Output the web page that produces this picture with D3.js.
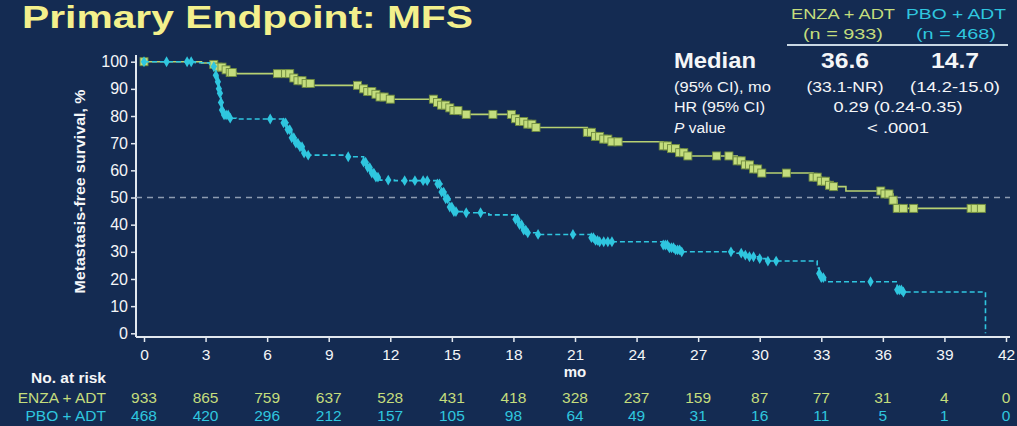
<!DOCTYPE html>
<html>
<head>
<meta charset="utf-8">
<script src="https://cdn.jsdelivr.net/npm/d3@7"></script>
<style>
  html, body { margin: 0; padding: 0; background: #142b52; }
  svg { display: block; font-family: "Liberation Sans", Arial, sans-serif; }
</style>
</head>
<body>
<svg id="chart" width="1017" height="426"></svg>
<script>
// ---- data -------------------------------------------------------------
const monthTicks = d3.range(0, 43, 3);
const pctTicks = d3.range(0, 101, 10);

const enzaAtRisk = [933, 865, 759, 637, 528, 431, 418, 328, 237, 159, 87, 77, 31, 4, 0];
const pboAtRisk  = [468, 420, 296, 212, 157, 105, 98, 64, 49, 31, 16, 11, 5, 1, 0];

// Kaplan-Meier steps: [month, survival % after the step]
const enzaSteps = [
  [0, 100], [2.8, 99.5], [3.3, 99], [3.6, 98], [3.9, 97], [4.2, 96], [4.5, 95.6],
  [7.2, 94], [7.5, 93], [7.8, 92], [8.2, 91.3],
  [10.6, 90], [10.9, 89], [11.2, 88], [11.5, 87], [11.8, 86.2],
  [14.2, 85], [14.5, 84], [14.8, 83], [15.1, 82], [15.4, 80.6],
  [18.0, 79], [18.3, 78], [18.7, 77], [19.1, 75.8],
  [21.6, 74], [22.0, 72.5], [22.4, 71.5], [22.8, 70.5],
  [25.3, 69], [25.7, 68], [26.1, 66.5], [26.5, 65.3],
  [28.9, 63.5], [29.3, 62], [29.7, 60.5], [30.0, 59],
  [32.6, 57.5], [33.0, 56], [33.4, 54.5], [33.6, 54], [34.2, 52.4],
  [36.0, 51.3], [36.5, 49], [36.7, 46], [40.9, 46]
];
const pboSteps = [
  [0, 100], [2.5, 99.6], [3.2, 99], [3.4, 98.2], [3.5, 95], [3.6, 92.6], [3.65, 90],
  [3.7, 88.4], [3.75, 85], [3.8, 82.2], [3.9, 80.4], [4.2, 79.2], [4.5, 78.9],
  [6.8, 77.5], [7.0, 75], [7.2, 72], [7.4, 70], [7.6, 68.7], [7.8, 66.4], [8.0, 65.6],
  [9.9, 65.0], [10.7, 63], [10.9, 61], [11.1, 59], [11.3, 57.5], [11.5, 56.4], [12.2, 56.2],
  [14.3, 55], [14.5, 52], [14.7, 49.5], [14.9, 46.5], [15.1, 44.8], [15.7, 44.4], [16.8, 43.6],
  [18.1, 42], [18.3, 40], [18.5, 38], [18.7, 37], [19.2, 36.4],
  [21.8, 35.2], [22.0, 34.2], [22.2, 33.7],
  [25.3, 32.5], [25.6, 31.5], [25.9, 30.7], [26.2, 30.0],
  [28.9, 29.5], [29.2, 28.8], [29.5, 28.2], [30.0, 27.5], [30.3, 26.6],
  [32.8, 24], [32.9, 22], [33.0, 20.5], [33.2, 19.0],
  [36.7, 16], [37.0, 15.2], [41.0, 0]
];

// censoring times (months)
const enzaCensor = [
  0, 3.4, 3.6, 3.8, 4.0, 4.2, 4.3, 6.5, 6.9,
  7.1, 7.3, 7.5, 7.7, 7.9, 8.1, 10.4,
  10.7, 10.9, 11.1, 11.3, 11.5, 11.7, 12.0,
  14.1, 14.3, 14.5, 14.7, 14.9, 15.1, 15.3, 15.7, 17.0,
  17.9, 18.1, 18.3, 18.5, 18.7, 18.9, 19.1,
  21.6, 21.8, 22.0, 22.2, 22.4, 22.6, 22.8, 23.1,
  25.3, 25.5, 25.7, 25.9, 26.1, 26.3, 26.5,
  27.9, 28.5, 28.9, 29.1, 29.3, 29.5, 29.7, 29.9, 30.1, 31.3,
  32.6, 32.8, 33.0, 33.2, 33.4, 33.6,
  35.9, 36.1, 36.3, 36.5, 36.7, 37.0, 37.5, 40.3, 40.5, 40.8
];
const pboCensor = [
  0, 1.1, 2.1, 2.3, 3.4, 3.5, 3.6, 3.65, 3.7, 3.75, 3.8, 3.9, 4.0, 4.1, 4.2,
  6.15, 6.8, 6.9, 7.0, 7.1, 7.2, 7.3, 7.4, 7.5, 7.6, 7.7, 7.8, 8.0, 9.95,
  10.7, 10.8, 10.9, 11.0, 11.1, 11.2, 11.3, 11.4, 11.9, 12.7, 13.2, 13.6, 13.8,
  14.3, 14.4, 14.5, 14.6, 14.7, 14.8, 14.9, 15.0, 15.1, 15.2, 15.7, 16.4,
  18.1, 18.2, 18.3, 18.4, 18.5, 18.6, 18.7, 19.2, 20.9,
  21.8, 21.9, 22.0, 22.1, 22.2, 22.4, 22.6, 22.8,
  25.3, 25.4, 25.5, 25.6, 25.7, 25.8, 25.9, 26.0, 26.1, 26.2,
  28.6, 29.1, 29.3, 29.5, 29.7, 30.0, 30.4, 30.8,
  32.9, 33.0, 33.1, 35.4, 36.7, 36.8, 36.9, 37.0
];

// ---- styling ----------------------------------------------------------
const C = {
  title: "#f3f08c",
  enza: "#c4dd7d",
  enzaLine: "#b7d172",
  enzaEdge: "#6e8a3e",
  pbo: "#2fc6df",
  text: "#f4f6f8",
  axis: "#e2e8ef",
  ref: "#8d9bb1"
};

const svg = d3.select("#chart");

const x = d3.scaleLinear().domain([0, 42]).range([144, 1006]);
const y = d3.scaleLinear().domain([0, 100]).range([333.3, 61.7]);

function label(g, px, py, str, o = {}) {
  const t = g.append("text")
    .attr("x", px).attr("y", py)
    .attr("fill", o.fill || C.text)
    .attr("font-size", o.size || 15)
    .attr("font-weight", o.weight || "normal")
    .attr("text-anchor", o.anchor || "start")
    .text(str);
  if (o.len) t.attr("textLength", o.len).attr("lengthAdjust", "spacingAndGlyphs");
  return t;
}

// ---- title ------------------------------------------------------------
label(svg, 22, 28, "Primary Endpoint: MFS", { size: 32, weight: "bold", fill: C.title, len: 451 });

// ---- stats table ------------------------------------------------------
const st = svg.append("g");
label(st, 843, 19, "ENZA + ADT", { size: 15.5, fill: C.enza, anchor: "middle", len: 104 });
label(st, 843, 39, "(n = 933)", { size: 15.5, fill: C.enza, anchor: "middle", len: 80 });
label(st, 956, 19, "PBO + ADT", { size: 15.5, fill: C.pbo, anchor: "middle", len: 100 });
label(st, 956, 39, "(n = 468)", { size: 15.5, fill: C.pbo, anchor: "middle", len: 80 });
st.append("line").attr("x1", 787).attr("x2", 1008).attr("y1", 45).attr("y2", 45)
  .attr("stroke", "#c9d8e4").attr("stroke-width", 2);

label(st, 674, 68, "Median", { size: 22, weight: "bold", len: 82 });
label(st, 845, 68, "36.6", { size: 22, weight: "bold", anchor: "middle", len: 48 });
label(st, 955, 68, "14.7", { size: 22, weight: "bold", anchor: "middle", len: 48 });
label(st, 674, 92, "(95% CI), mo", { size: 15.5, len: 97 });
label(st, 845, 92, "(33.1-NR)", { size: 15.5, anchor: "middle", len: 77 });
label(st, 955, 92, "(14.2-15.0)", { size: 15.5, anchor: "middle", len: 90 });
label(st, 674, 112, "HR (95% CI)", { size: 15.5, len: 91 });
label(st, 898, 112, "0.29 (0.24-0.35)", { size: 15.5, anchor: "middle", len: 129 });
const pv = label(st, 674, 133, "", { size: 15.5 });
pv.append("tspan").attr("font-style", "italic").text("P");
pv.append("tspan").text(" value");
label(st, 898, 133, "< .0001", { size: 15.5, anchor: "middle", len: 62 });

// ---- axes -------------------------------------------------------------
const yAxis = svg.append("g").attr("transform", "translate(136,0)")
  .call(d3.axisLeft(y).tickValues(pctTicks).tickSize(5).tickPadding(3));
yAxis.select(".domain").attr("d", "M0,55V337").attr("stroke", C.axis).attr("stroke-width", 2);
yAxis.selectAll(".tick line").attr("stroke", C.axis).attr("stroke-width", 1.5);
yAxis.selectAll(".tick text").attr("fill", C.text).attr("font-size", 16)
  .attr("font-family", "Liberation Sans, Arial, sans-serif");

const xAxis = svg.append("g").attr("transform", "translate(0,337)")
  .call(d3.axisBottom(x).tickValues(monthTicks).tickSize(5).tickPadding(7));
xAxis.select(".domain").attr("d", "M136,0H1010").attr("stroke", C.axis).attr("stroke-width", 2);
xAxis.selectAll(".tick line").attr("stroke", C.axis).attr("stroke-width", 1.5);
xAxis.selectAll(".tick text").attr("fill", C.text).attr("font-size", 15.5)
  .attr("font-family", "Liberation Sans, Arial, sans-serif");

label(svg, x(21), 377, "mo", { size: 15, weight: "bold", anchor: "middle" });

svg.append("text")
  .attr("transform", `translate(85,${y(50) - 6}) rotate(-90)`)
  .attr("text-anchor", "middle")
  .attr("fill", C.text).attr("font-size", 15).attr("font-weight", "bold")
  .attr("textLength", 204).attr("lengthAdjust", "spacingAndGlyphs")
  .text("Metastasis-free survival, %");

// median reference line
svg.append("line")
  .attr("x1", 136).attr("x2", 1010).attr("y1", y(50)).attr("y2", y(50))
  .attr("stroke", C.ref).attr("stroke-width", 1.3).attr("stroke-dasharray", "6,5");

// ---- curves -----------------------------------------------------------
const step = d3.line().x(d => x(d[0])).y(d => y(d[1])).curve(d3.curveStepAfter);
const survAt = (steps, t) => {
  let s = steps[0][1];
  for (const [tt, v] of steps) if (tt <= t) s = v;
  return s;
};

svg.append("path").datum(enzaSteps).attr("d", step)
  .attr("fill", "none").attr("stroke", C.enzaLine).attr("stroke-width", 1.6);
svg.append("g").selectAll("rect").data(enzaCensor).join("rect")
  .attr("x", d => x(d) - 4).attr("y", d => y(survAt(enzaSteps, d)) - 4)
  .attr("width", 8).attr("height", 8)
  .attr("fill", C.enza).attr("stroke", C.enzaEdge).attr("stroke-width", 0.9);

svg.append("path").datum(pboSteps).attr("d", step)
  .attr("fill", "none").attr("stroke", C.pbo).attr("stroke-width", 1.6)
  .attr("stroke-dasharray", "5,3");
const diamond = d3.symbol().type(d3.symbolDiamond).size(34);
svg.append("g").selectAll("path").data(pboCensor).join("path")
  .attr("d", diamond)
  .attr("transform", d => `translate(${x(d)},${y(survAt(pboSteps, d))})`)
  .attr("fill", C.pbo);

// ---- number at risk ---------------------------------------------------
label(svg, 106, 383, "No. at risk", { size: 15.5, weight: "bold", anchor: "end" });
label(svg, 106, 403, "ENZA + ADT", { size: 15.5, fill: C.enza, anchor: "end" });
label(svg, 106, 421, "PBO + ADT", { size: 15.5, fill: C.pbo, anchor: "end" });

svg.append("g").selectAll("text").data(enzaAtRisk).join("text")
  .attr("x", (d, i) => x(monthTicks[i])).attr("y", 403)
  .attr("text-anchor", "middle").attr("font-size", 15.5).attr("fill", C.enza)
  .text(d => d);
svg.append("g").selectAll("text").data(pboAtRisk).join("text")
  .attr("x", (d, i) => x(monthTicks[i])).attr("y", 421)
  .attr("text-anchor", "middle").attr("font-size", 15.5).attr("fill", C.pbo)
  .text(d => d);
</script>
</body>
</html>
